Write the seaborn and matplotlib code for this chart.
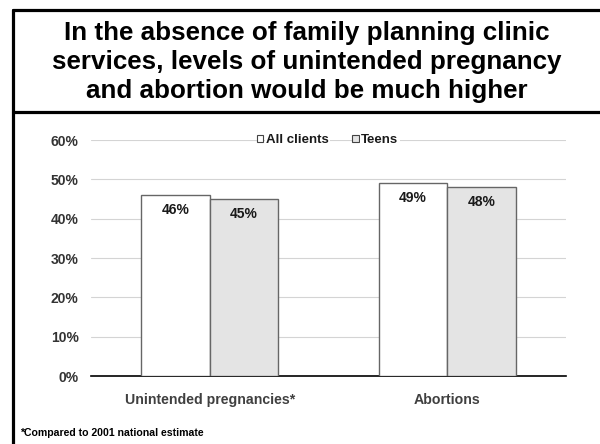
import matplotlib
matplotlib.use("Agg")
import matplotlib.pyplot as plt
from matplotlib.lines import Line2D
from matplotlib.ticker import PercentFormatter
import pandas as pd
import seaborn as sns

sns.set_theme(style="white")
plt.rcParams['font.family'] = ['Liberation Sans', 'DejaVu Sans']
plt.rcParams['text.color'] = 'black'

# data
categories = ['Unintended pregnancies*', 'Abortions']
groups = ['All clients', 'Teens']
all_clients = [0.46, 0.49]
teens = [0.45, 0.48]
yticks = [0, 0.1, 0.2, 0.3, 0.4, 0.5, 0.6]

title = ("In the absence of family planning clinic\n"
         "services, levels of unintended pregnancy\n"
         "and abortion would be much higher")
footnote = "*Compared to 2001 national estimate"

df = pd.DataFrame({
    'Category': categories * 2,
    'Group': [groups[0]] * 2 + [groups[1]] * 2,
    'Value': all_clients + teens,
})

fig = plt.figure(figsize=(6, 4.44), dpi=100)
fig.patch.set_facecolor('white')

# frame around title and chart
W, H = 600, 444
def fx(px):
    return px / W
def fy(py):
    return 1 - py / H
fig.add_artist(Line2D([fx(13), 1], [fy(10), fy(10)], color='black', lw=2.3))
fig.add_artist(Line2D([fx(13), fx(13)], [fy(10), 0], color='black', lw=2.3))
fig.add_artist(Line2D([fx(13), 1], [fy(112), fy(112)], color='black', lw=2.3))

fig.text(fx(307), fy(62), title, ha='center', va='center', fontsize=18.7,
         fontweight='bold', linespacing=1.28, color='black')

ax = fig.add_axes([fx(91), fy(376), fx(566) - fx(91), fy(140) - fy(376)])
sns.barplot(data=df, x='Category', y='Value', hue='Group',
            palette=['white', '#e4e4e4'], edgecolor='#666666', linewidth=1,
            width=0.575, errorbar=None, ax=ax, zorder=3)

ax.set_ylim(0, 0.6)
ax.set_yticks(yticks)
ax.yaxis.set_major_formatter(PercentFormatter(1.0, decimals=0))
ax.grid(axis='y', color='#d4d4d4', lw=0.8, zorder=0)
ax.set_axisbelow(True)
for s in ['top', 'right', 'left']:
    ax.spines[s].set_visible(False)
ax.spines['bottom'].set_color('black')
ax.spines['bottom'].set_linewidth(1.2)
ax.tick_params(axis='y', length=0, pad=9, labelsize=10, labelcolor='#333333')
ax.tick_params(axis='x', length=0, pad=12, labelsize=10.2, labelcolor='#404040')
for lbl in ax.get_yticklabels() + ax.get_xticklabels():
    lbl.set_fontweight('bold')
ax.set_xlabel('')
ax.set_ylabel('')

for cont in ax.containers:
    ax.bar_label(cont, labels=[f'{v * 100:.0f}%' for v in cont.datavalues],
                 padding=-15.5, fontsize=10, fontweight='bold', color='#1a1a1a',
                 zorder=4)

leg = ax.legend(loc='center', bbox_to_anchor=(0.498, 1.0), ncol=2,
                frameon=False, handlelength=0.5, handleheight=0.5,
                handletextpad=0.2, columnspacing=1.75,
                prop={'weight': 'bold', 'size': 9.5})
for t in leg.get_texts():
    t.set_color('#1a1a1a')
    t.set_bbox(dict(facecolor='white', edgecolor='none', pad=1))
for h in leg.legend_handles:
    h.set_edgecolor('#444444')
    h.set_linewidth(0.8)

fig.text(fx(20), fy(433), footnote, ha='left', va='center', fontsize=7.6,
         fontweight='bold', color='black')

fig.savefig('out.png', dpi=100)
